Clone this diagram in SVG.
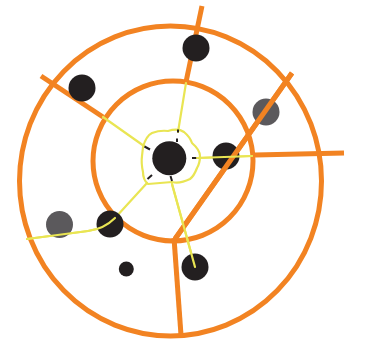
<svg xmlns="http://www.w3.org/2000/svg" width="368" height="343" viewBox="0 0 368 343">
<style>
.o{fill:none;stroke:#f28322;stroke-width:5;stroke-linecap:butt}
.y{fill:none;stroke:#e9e553;stroke-width:2.2;stroke-linecap:round;stroke-linejoin:round}
.k{fill:#231f20}
.g{fill:#5b595c}
.t{stroke:#231f20;stroke-width:2;fill:none}
</style>
<rect width="368" height="343" fill="#fff"/>
<g id="rings">
<ellipse class="o" cx="170.5" cy="181" rx="151" ry="155"/>
<circle class="o" cx="173" cy="161" r="80"/>
</g>
<g id="connectors">
<line class="o" x1="202" y1="6" x2="186" y2="82"/>
<line class="o" x1="41" y1="76" x2="103" y2="117"/>
<line class="o" x1="292" y1="73" x2="175" y2="239"/>
<line class="o" x1="255" y1="155" x2="344" y2="153"/>
<line class="o" x1="174" y1="238" x2="181" y2="335"/>
<line class="y" x1="186" y1="83" x2="178" y2="132"/>
<line class="y" x1="103" y1="117" x2="144" y2="146"/>
<line class="y" x1="197" y1="158" x2="252" y2="156"/>
<path class="y" d="M147,183 L115,218 Q104,229 88,231 L27,239"/>
<line class="y" x1="172" y1="184" x2="195" y2="267"/>
<path class="y" d="M143,147 Q146,136 152,133 Q160,130 168,131 Q178,128 184,132 Q190,137 192,143 Q200,150 200,156 Q200,163 197,168 Q194,176 190,179 Q180,184 172,182 Q160,183 148,184 Q143,180 143,172 Q141,163 142,156 Z"/>
<line class="t" x1="178" y1="129.5" x2="178" y2="132.5"/>
<line class="t" x1="177" y1="138.5" x2="177" y2="142"/>
<line class="t" x1="144.5" y1="146.5" x2="150" y2="149.5"/>
<line class="t" x1="192" y1="158" x2="199" y2="158"/>
<line class="t" x1="147.5" y1="179" x2="152" y2="175"/>
<line class="t" x1="170.5" y1="176" x2="172" y2="181"/>
</g>
<g id="center"><circle class="k" cx="169.3" cy="158.3" r="17"/></g>
<g id="n-top"><circle class="k" cx="196" cy="48" r="13.5"/></g>
<g id="n-upleft"><circle class="k" cx="82" cy="88" r="13.5"/></g>
<g id="n-greyright"><circle class="g" cx="266" cy="112" r="13.5"/></g>
<g id="n-right"><circle class="k" cx="226" cy="156" r="13.5"/></g>
<g id="n-greyleft"><circle class="g" cx="59.5" cy="224.5" r="13.5"/></g>
<g id="n-left"><circle class="k" cx="110" cy="224" r="13.5"/></g>
<g id="n-bottom"><circle class="k" cx="195" cy="267" r="13.5"/></g>
<g id="n-small"><circle class="k" cx="126.3" cy="269" r="7.5"/></g>
<g id="overlay">
<line class="o" x1="292" y1="73" x2="175" y2="239"/>
<line class="y" x1="197" y1="158" x2="252" y2="156"/>
<path class="y" d="M115,218 Q104,229 88,231 L27,239"/>
<line class="y" x1="172" y1="184" x2="195" y2="267"/>
</g>
</svg>
